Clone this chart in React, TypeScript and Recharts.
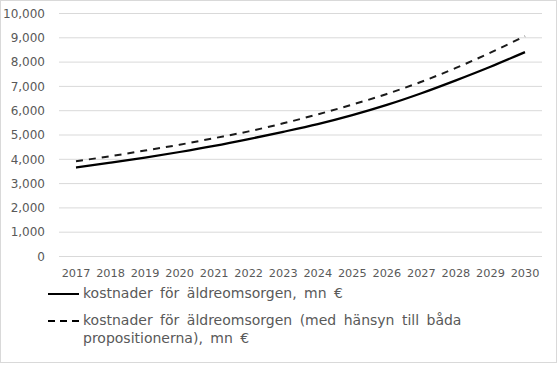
import { LineChart, Line, XAxis, YAxis, CartesianGrid } from 'recharts'

const years = ['2017', '2018', '2019', '2020', '2021', '2022', '2023', '2024', '2025', '2026', '2027', '2028', '2029', '2030']
const kostnader = [3660, 3860, 4070, 4300, 4550, 4830, 5130, 5450, 5820, 6240, 6720, 7250, 7810, 8410]
const kostnaderProp = [3920, 4130, 4360, 4600, 4870, 5150, 5480, 5850, 6250, 6690, 7190, 7760, 8390, 9070]
const yTicks = [0, 1000, 2000, 3000, 4000, 5000, 6000, 7000, 8000, 9000, 10000]

const seriesNames = [
  'kostnader för äldreomsorgen, mn €',
  'kostnader för äldreomsorgen (med hänsyn till båda propositionerna), mn €',
]

const font = '"DejaVu Sans", sans-serif'
const textColor = '#595959'

export default function App() {
  const chartData = years.map((y, i) => ({
    year: y,
    a: kostnader[i],
    b: kostnaderProp[i],
  }))

  return (
    <div
      style={{
        position: 'absolute',
        left: 0,
        top: 0,
        width: 557,
        height: 363,
        border: '1px solid #d9d9d9',
        boxSizing: 'border-box',
        background: '#fff',
        fontFamily: font,
      }}
    >
      <LineChart
        width={555}
        height={361}
        data={chartData}
        margin={{ top: 12.5, right: 14, left: 0, bottom: 85.5 }}
      >
        <CartesianGrid vertical={false} stroke="#d9d9d9" strokeWidth={1} />
        <XAxis
          dataKey="year"
          interval={0}
          axisLine={false}
          tickLine={false}
          height={20}
          tickMargin={6}
          padding={{ left: 17, right: 17 }}
          tick={{ fontSize: 11.3, fill: textColor, fontFamily: font }}
        />
        <YAxis
          domain={[0, 10000]}
          ticks={yTicks}
          width={58}
          axisLine={false}
          tickLine={false}
          tickMargin={8}
          tick={{ fontSize: 12, fill: textColor, fontFamily: font }}
          tickFormatter={(v: number) => v.toLocaleString('en-US')}
        />
        <Line
          type="monotone"
          dataKey="a"
          stroke="#000"
          strokeWidth={2.25}
          dot={false}
          isAnimationActive={false}
        />
        <Line
          type="monotone"
          dataKey="b"
          stroke="#1a1a1a"
          strokeWidth={2}
          strokeDasharray="7 6"
          dot={false}
          isAnimationActive={false}
        />
      </LineChart>
      <div style={{ position: 'absolute', left: 46, top: 283, fontSize: 14, color: textColor, lineHeight: '18px' }}>
        {seriesNames.map((name, i) => (
          <div key={name} style={{ display: 'flex', alignItems: 'flex-start', marginBottom: 9 }}>
            <svg width={32} height={18} style={{ flex: 'none', marginRight: 4 }}>
              <line
                x1={1}
                y1={10}
                x2={32}
                y2={10}
                stroke="#000"
                strokeWidth={2}
                strokeDasharray={i === 1 ? '7 5' : undefined}
              />
            </svg>
            <span style={{ width: 420, wordSpacing: 3 }}>{name}</span>
          </div>
        ))}
      </div>
    </div>
  )
}
